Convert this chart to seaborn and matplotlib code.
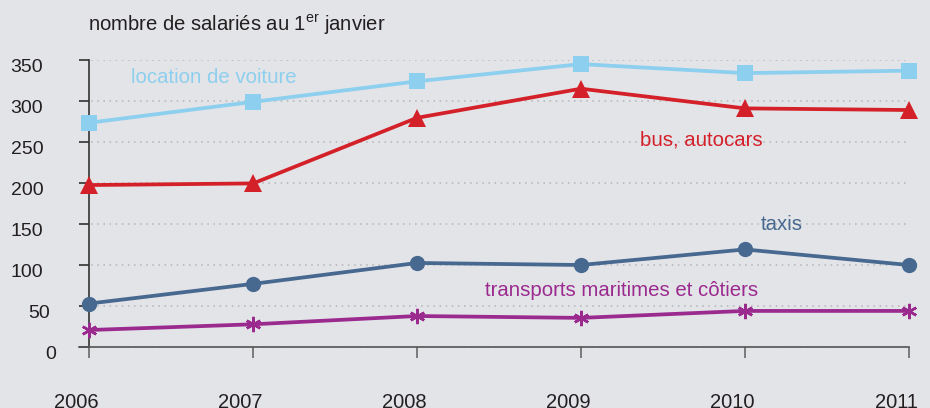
import matplotlib
matplotlib.use("Agg")
import matplotlib.pyplot as plt
import matplotlib.transforms as mtransforms
import seaborn as sns

years = [2006, 2007, 2008, 2009, 2010, 2011]
location_voiture = [273.5, 299, 324, 345, 334, 337]
bus_autocars = [197.5, 199.5, 279.5, 315, 291, 289]
taxis = [53, 77, 102.5, 100, 119, 100]
maritimes = [20.7, 27.7, 37.8, 35.5, 44, 44]

y_ticks = [0, 50, 100, 150, 200, 250, 300, 350]
title_text = r"nombre de salariés au 1$^{\mathrm{er}}$ janvier"

BG = "#e3e4e8"
TXT = "#231f20"
C_LOC = "#8dcfee"
C_BUS = "#d42029"
C_TAX = "#47688f"
C_MAR = "#9b2a8f"

sns.set_style("white", {"axes.facecolor": BG, "figure.facecolor": BG})
plt.rcParams["font.family"] = ["Liberation Sans", "DejaVu Sans"]
plt.rcParams["mathtext.fontset"] = "custom"
plt.rcParams["mathtext.rm"] = "Liberation Sans"

fig = plt.figure(figsize=(9.3, 4.08), dpi=100)
fig.patch.set_facecolor(BG)
ax = fig.add_axes([79.3 / 930, 61 / 408, 829.4 / 930, 287 / 408])
ax.set_facecolor(BG)

series = [
    (location_voiture, C_LOC, "s", 11.5, 0),
    (bus_autocars, C_BUS, "^", 12.5, 0),
    (taxis, C_TAX, "o", 11, 0),
    (maritimes, C_MAR, (6, 2, 0), 11, 1.8),
]
for vals, col, mk, ms, mew in series:
    sns.lineplot(x=years, y=vals, ax=ax, color=col, linewidth=2.7,
                 marker=mk, markersize=ms, markeredgewidth=mew,
                 markeredgecolor=col, markerfacecolor=col, clip_on=False,
                 zorder=3)

ax.set_xlim(2006 - 10 / 163.9, 2011)
ax.set_ylim(0, 350)
ax.set_xticks(years)
ax.set_xticklabels([str(y) for y in years])
ax.set_yticks(y_ticks)
ax.set_yticklabels([str(v) for v in y_ticks])

ax.yaxis.grid(True, linestyle=(0, (1, 3)), color="#b3b4b8", linewidth=1.1, zorder=0)
ax.xaxis.grid(False)
ax.set_axisbelow(True)

for s in ["top", "right"]:
    ax.spines[s].set_visible(False)
ax.spines["left"].set_position(("data", 2006))
ax.spines["left"].set_color("#333333")
ax.spines["left"].set_linewidth(1.2)
ax.spines["bottom"].set_color("#555555")
ax.spines["bottom"].set_linewidth(1.2)

ax.tick_params(axis="y", left=True, direction="out", length=7.2, width=1.2, color="#333333",
               labelsize=14, labelcolor=TXT, pad=26)
ax.tick_params(axis="x", bottom=True, direction="out", length=8, width=1.2, color="#666666",
               labelsize=14.5, labelcolor=TXT, pad=25)
ax.set_xlabel("")
ax.set_ylabel("")

# per-label nudges to mimic the reference layout
ynudge = {0: 13, 50: 7}
for lab, v in zip(ax.get_yticklabels(), y_ticks):
    dx = ynudge.get(v, 0)
    lab.set_transform(lab.get_transform() + mtransforms.ScaledTranslation(dx / 100, -5.5 / 100, fig.dpi_scale_trans))
for lab in ax.get_xticklabels():
    lab.set_transform(lab.get_transform() + mtransforms.ScaledTranslation(-12.5 / 100, 0, fig.dpi_scale_trans))

fs = 14.7
ax.text(2006.254, 329, "location de voiture", color=C_LOC, fontsize=fs, ha="left", va="center")
ax.text(2009.36, 252, "bus, autocars", color=C_BUS, fontsize=fs, ha="left", va="center")
ax.text(2010.10, 149, "taxis", color=C_TAX, fontsize=fs, ha="left", va="center")
ax.text(2008.414, 69.5, "transports maritimes et côtiers", color=C_MAR, fontsize=fs, ha="left", va="center")

fig.text(88 / 930, 1 - 25 / 408, title_text, color=TXT, fontsize=14.6, ha="left", va="center")

fig.savefig("out.png", dpi=100, facecolor=BG)
